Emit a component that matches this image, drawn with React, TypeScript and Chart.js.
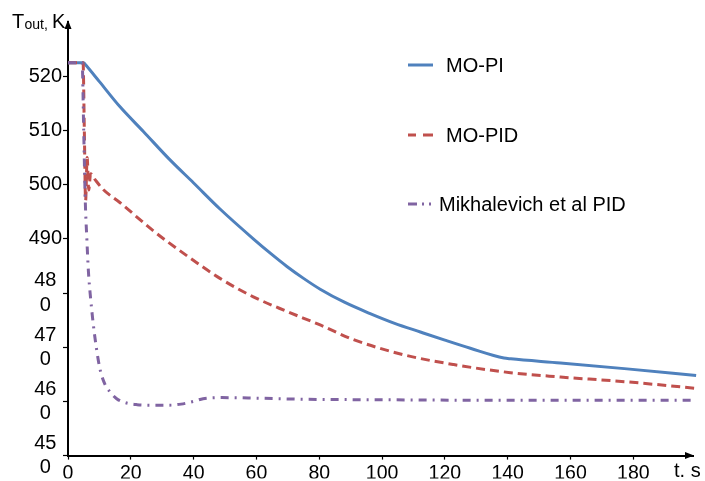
import React, { useEffect, useRef } from 'react';
import { Chart, registerables } from 'chart.js';

Chart.register(...registerables);

// ---- data ----
const seriesLabels = ['MO-PI', 'MO-PID', 'Mikhalevich et al PID'];
const seriesColors = ['#4F81BD', '#C0504D', '#8064A2'];

const yTickValues = [450, 460, 470, 480, 490, 500, 510, 520];
const yTickLabels: (string | string[])[] = [
  ['45', '0'], ['46', '0'], ['47', '0'], ['48', '0'], '490', '500', '510', '520',
];
const xTickValues = [0, 20, 40, 60, 80, 100, 120, 140, 160, 180];

const piTime = [0, 5, 5.6, 10, 16.5, 24, 32.4, 40, 48.4, 59, 64.5, 69.7, 75, 80.3, 88, 96.2, 104, 112.2, 120, 128.1, 138.8, 141, 156.8, 178, 200];
const piTemp = [522.5, 522.5, 522.1, 519.0, 514.4, 509.8, 504.6, 500.3, 495.5, 490.0, 487.3, 484.9, 482.7, 480.7, 478.3, 476.2, 474.4, 472.8, 471.3, 469.8, 468.0, 467.85, 467.1, 466.0, 464.8];

const pidTime = [0, 4.8, 5.2, 5.6, 6.1, 6.6, 7.2, 8.5, 11.2, 16.5, 27.1, 37.8, 48.4, 59, 69.7, 80.3, 90.9, 106.9, 122.8, 140.9, 156.8, 178.1, 200];
const pidTemp = [522.5, 522.5, 510, 497, 505, 499, 502, 501, 499.1, 496.7, 491.5, 486.9, 482.7, 479.3, 476.6, 474.1, 471.4, 468.6, 466.8, 465.3, 464.5, 463.6, 462.4];

const mikTime = [0, 4.5, 5.0, 5.5, 6.0, 6.5, 7.2, 8.0, 9.0, 10.1, 11.5, 13.3, 15.5, 18, 22, 27, 32, 36, 40, 43, 49, 60, 75, 100, 140, 170, 200];
const mikTemp = [522.5, 522.5, 510, 497, 490, 484, 479, 474.5, 470, 466.2, 463.5, 461.8, 460.5, 459.8, 459.4, 459.3, 459.3, 459.5, 460.0, 460.5, 460.7, 460.6, 460.4, 460.3, 460.2, 460.2, 460.2];

const FONT = "'Liberation Sans', Arial, sans-serif";

const toPoints = (xs: number[], ys: number[]) => xs.map((x, i) => ({ x, y: ys[i] }));

const decorPlugin = {
  id: 'decor',
  afterDraw(chart: any) {
    const ctx = chart.ctx as CanvasRenderingContext2D;
    const { left, right, top, bottom } = chart.chartArea;
    ctx.save();
    ctx.fillStyle = '#000';
    // y arrow
    ctx.beginPath();
    ctx.moveTo(left, top - 2);
    ctx.lineTo(left - 3.5, top + 7);
    ctx.lineTo(left + 3.5, top + 7);
    ctx.closePath();
    ctx.fill();
    // x arrow
    ctx.beginPath();
    ctx.moveTo(right + 1, bottom);
    ctx.lineTo(right - 8, bottom - 3.5);
    ctx.lineTo(right - 8, bottom + 3.5);
    ctx.closePath();
    ctx.fill();

    // y title  T_out, K
    ctx.textBaseline = 'alphabetic';
    ctx.textAlign = 'left';
    ctx.font = `20px ${FONT}`;
    ctx.fillText('T', 12, 28);
    ctx.font = `14px ${FONT}`;
    ctx.fillText('out,', 24.5, 29);
    ctx.font = `20px ${FONT}`;
    ctx.fillText('K', 52, 28);

    // x title
    ctx.font = `20px ${FONT}`;
    ctx.fillText('t. s', 674, 477);

    // legend
    const legendY = [65, 135, 204];
    const legendTextX = [446, 446, 439];
    const legendDash = [[], [8, 7, 10, 5], [9, 5, 2, 5, 2, 5]];
    chart.data.datasets.forEach((ds: any, i: number) => {
      ctx.strokeStyle = ds.borderColor;
      ctx.lineWidth = 3;
      ctx.setLineDash(legendDash[i]);
      ctx.beginPath();
      ctx.moveTo(408, legendY[i]);
      ctx.lineTo(433, legendY[i]);
      ctx.stroke();
      ctx.setLineDash([]);
      ctx.fillStyle = '#000';
      ctx.font = `20px ${FONT}`;
      ctx.textBaseline = 'middle';
      ctx.fillText(ds.label, legendTextX[i], legendY[i] + 1);
    });
    ctx.restore();
  },
};

export default function App() {
  const ref = useRef<HTMLCanvasElement | null>(null);

  useEffect(() => {
    if (!ref.current) return;
    const chart = new Chart(ref.current, {
      type: 'line',
      data: {
        datasets: [
          {
            label: seriesLabels[0],
            data: toPoints(piTime, piTemp),
            borderColor: seriesColors[0],
            borderWidth: 3,
            pointRadius: 0,
            cubicInterpolationMode: 'monotone',
            clip: false as any,
            order: 2,
          },
          {
            label: seriesLabels[1],
            data: toPoints(pidTime, pidTemp),
            borderColor: seriesColors[1],
            borderWidth: 3,
            borderDash: [9, 5],
            pointRadius: 0,
            cubicInterpolationMode: 'monotone',
            clip: false as any,
            order: 1,
          },
          {
            label: seriesLabels[2],
            data: toPoints(mikTime, mikTemp),
            borderColor: seriesColors[2],
            borderWidth: 3,
            borderDash: [8, 6, 2, 6],
            pointRadius: 0,
            cubicInterpolationMode: 'monotone',
            clip: false as any,
            order: 0,
          },
        ],
      },
      options: {
        animation: false,
        responsive: true,
        maintainAspectRatio: false,
        layout: { padding: { top: 22, right: 12, left: 0, bottom: 0 } },
        plugins: { legend: { display: false }, tooltip: { enabled: false } },
        scales: {
          x: {
            type: 'linear',
            min: 0,
            max: 199,
            afterFit: (s: any) => { s.height = 23; },
            afterBuildTicks: (s: any) => {
              s.ticks = xTickValues.map((v) => ({ value: v }));
            },
            ticks: {
              stepSize: 20,
              includeBounds: false,
              maxRotation: 0,
              autoSkip: false,
              padding: 2,
              color: '#000',
              font: { family: FONT, size: 19.5 },
              callback: (v: any) => String(v),
            },
            grid: {
              drawOnChartArea: false,
              drawTicks: true,
              tickLength: 4,
              tickWidth: 1.2,
              tickColor: '#000',
              color: '#000',
            },
            border: { display: true, color: '#000', width: 2 },
          },
          y: {
            type: 'linear',
            min: 450,
            max: 530,
            afterFit: (s: any) => { s.width = 68; },
            afterBuildTicks: (s: any) => {
              s.ticks = yTickValues.map((v) => ({ value: v }));
            },
            ticks: {
              stepSize: 10,
              autoSkip: false,
              padding: 1,
              crossAlign: 'center',
              color: '#000',
              font: { family: FONT, size: 20, lineHeight: 1.22 },
              callback: (v: any) => {
                const i = yTickValues.indexOf(Number(v));
                return i >= 0 ? yTickLabels[i] : '';
              },
            },
            grid: {
              drawOnChartArea: false,
              drawTicks: true,
              tickLength: 5,
              tickWidth: 1.2,
              tickColor: '#000',
              color: '#000',
            },
            border: { display: true, color: '#000', width: 2 },
          },
        },
      } as any,
      plugins: [decorPlugin],
    });
    return () => chart.destroy();
  }, []);

  return (
    <div style={{ position: 'fixed', left: 0, top: 0, width: 705, height: 481, background: '#fff' }}>
      <canvas ref={ref} />
    </div>
  );
}
